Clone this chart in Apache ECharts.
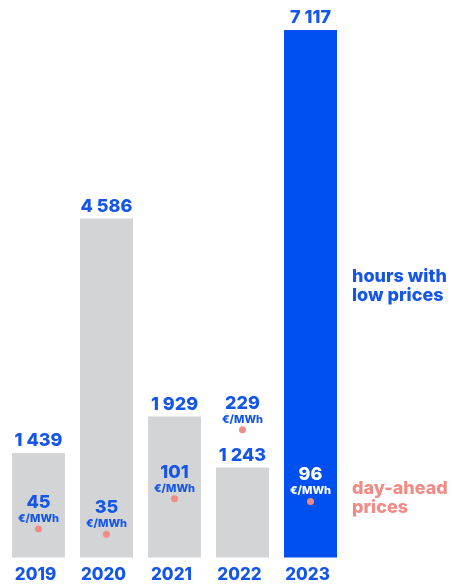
<!DOCTYPE html>
<html>
<head>
<meta charset="utf-8">
<script src="https://cdn.jsdelivr.net/npm/echarts@6/dist/echarts.min.js"></script>
<style>
  html, body { margin: 0; padding: 0; background: #fff; }
  #chart { width: 454px; height: 585px; }
</style>
</head>
<body>
<div id="chart"></div>
<script>
// data
const years = ['2019', '2020', '2021', '2022', '2023'];
const lowPriceHours = [1439, 4586, 1929, 1243, 7117];
const dayAheadPrices = [45, 35, 101, 229, 96];

const BLUE = '#0050ef';
const TXT_BLUE = '#1556e8';
const GREY = '#d3d4d6';
const SALMON = '#f08b86';
const FONT = 'Inter, "Noto Sans", sans-serif';
const W = 800;

const fmt = v => String(v).replace(/\B(?=(\d{3})+(?!\d))/g, ' ');

const chart = echarts.init(document.getElementById('chart'));

const option = {
    animation: false,
    textStyle: { fontFamily: FONT },
    grid: { left: 4.5, right: 109.5, top: 30, bottom: 27.5 },
    xAxis: {
        type: 'category',
        data: years,
        axisLine: { show: false },
        axisTick: { show: false },
        axisLabel: {
            color: TXT_BLUE, fontSize: 17, fontWeight: W, fontFamily: FONT, margin: 9,
            padding: [0, 6, 0, 0]
        }
    },
    yAxis: [
        { type: 'value', min: 35, max: 7117, show: false },
        { type: 'value', min: -8, max: 971, show: false }
    ],
    series: [
        {
            type: 'bar',
            barWidth: 53,
            data: lowPriceHours.map((v, i) => ({
                value: v,
                itemStyle: { color: i === lowPriceHours.length - 1 ? BLUE : GREY }
            })),
            label: {
                show: true,
                position: 'top',
                distance: 3,
                color: TXT_BLUE,
                fontSize: 18,
                fontWeight: W,
                fontFamily: FONT,
                formatter: p => fmt(p.value)
            },
            z: 1
        },
        {
            type: 'scatter',
            yAxisIndex: 1,
            symbol: 'circle',
            symbolSize: 7,
            itemStyle: { color: SALMON, opacity: 1 },
            data: dayAheadPrices.map((v, i) => {
                const white = i === dayAheadPrices.length - 1;
                return {
                    value: v,
                    label: {
                        rich: {
                            v: { fontSize: 18, fontWeight: W, lineHeight: 20, color: white ? '#fff' : TXT_BLUE, fontFamily: FONT },
                            u: { fontSize: 11, fontWeight: W, lineHeight: 12, color: white ? '#fff' : TXT_BLUE, fontFamily: FONT }
                        }
                    }
                };
            }),
            label: {
                show: true,
                position: 'top',
                distance: 1,
                formatter: p => '{v|' + p.value + '}\n{u|€/MWh}'
            },
            z: 3
        }
    ],
    graphic: [
        {
            type: 'text', left: 352, top: 267,
            style: {
                text: 'hours with\nlow prices', fill: TXT_BLUE,
                font: W + ' 18px ' + FONT, lineHeight: 19
            }
        },
        {
            type: 'text', left: 352, top: 479,
            style: {
                text: 'day-ahead\nprices', fill: SALMON,
                font: W + ' 18px ' + FONT, lineHeight: 19
            }
        }
    ]
};

chart.setOption(option);
window.addEventListener('resize', () => chart.resize());
</script>
</body>
</html>
